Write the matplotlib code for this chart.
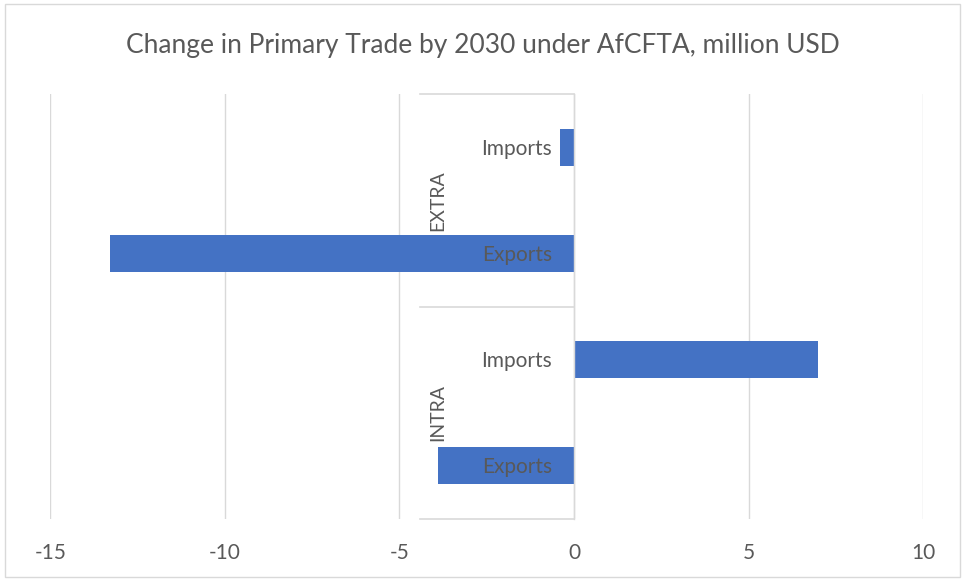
import matplotlib as mpl
mpl.use("Agg")
import matplotlib.pyplot as plt
from matplotlib.patches import Rectangle
from matplotlib.transforms import blended_transform_factory

# ---------------------------------------------------------
# Data (million USD)
# ---------------------------------------------------------
groups = ["EXTRA", "INTRA"]
flows = ["Imports", "Exports"]
extra_vals = [-0.4, -13.3]
intra_vals = [7.0, -3.9]
xticks = [-15, -10, -5, 0, 5, 10]

TITLE = "Change in Primary Trade by 2030 under AfCFTA, million USD"

# ---------------------------------------------------------
# Style
# ---------------------------------------------------------
BAR_C = "#4472C4"
TXT_C = "#595959"
GRID_C = "#D9D9D9"
LBL_FS = 15
mpl.rcParams["font.family"] = ["Lato", "DejaVu Sans"]

fig = plt.figure(figsize=(9.65, 5.81), dpi=100)
ax = fig.add_axes([0.0523, 0.1067, 0.9042, 0.7315])

# bottom-to-top order: INTRA Exports, INTRA Imports, EXTRA Exports, EXTRA Imports
labels = flows[::-1] + flows[::-1]
values = intra_vals[::-1] + extra_vals[::-1]
y = list(range(len(values)))

ax.barh(y, values, height=0.35, color=BAR_C, zorder=2)

ax.set_xlim(-15, 10)
ax.set_ylim(-0.5, 3.5)
ax.set_xticks(xticks)
ax.set_xticklabels([str(t) for t in xticks])
ax.grid(True, axis="x", color=GRID_C, linewidth=1.0)
ax.set_axisbelow(True)

ax.set_yticks(y)
ax.set_yticklabels([])
ax.spines["left"].set_position(("data", 0))
ax.spines["left"].set_color(GRID_C)
ax.spines["left"].set_linewidth(1.0)
ax.spines["left"].set_zorder(3)
for s in ["top", "right", "bottom"]:
    ax.spines[s].set_visible(False)

ax.tick_params(axis="y", length=0)
ax.tick_params(axis="x", length=0, pad=17, labelsize=LBL_FS, labelcolor=TXT_C)

# category labels drawn on top of the bars
for yi, lab in zip(y, labels):
    ax.annotate(lab, xy=(0, yi), xytext=(-16, -1), textcoords="offset points",
                ha="right", va="center", fontsize=LBL_FS, color=TXT_C,
                zorder=5)

# multi-level category axis: separators and group labels
sep_x0 = (420 - 50.5) / 872.5
sep_x1 = (573.5 - 50.5) / 872.5
trans = blended_transform_factory(ax.transAxes, ax.transData)
for yb in [-0.5, 1.5, 3.5]:
    ax.plot([sep_x0, sep_x1], [yb, yb], color=GRID_C, linewidth=1.2,
            transform=trans, clip_on=False, zorder=3)
group_x = (438 - 50.5) / 872.5
for gi, g in enumerate(groups):
    yc = 2.5 - 2 * gi
    ax.text(group_x, yc, g, rotation=90, ha="center", va="center",
            fontsize=14, color=TXT_C, transform=trans, zorder=5)

fig.text(0.5, 0.921, TITLE, ha="center", va="center",
         fontsize=19, color=TXT_C)

# chart border
fig.patches.append(Rectangle((5 / 965, 4 / 581), 955 / 965, 573 / 581,
                             transform=fig.transFigure, fill=False,
                             edgecolor=GRID_C, linewidth=1.0))

fig.savefig("out.png", dpi=100, facecolor="white")
plt.close(fig)
